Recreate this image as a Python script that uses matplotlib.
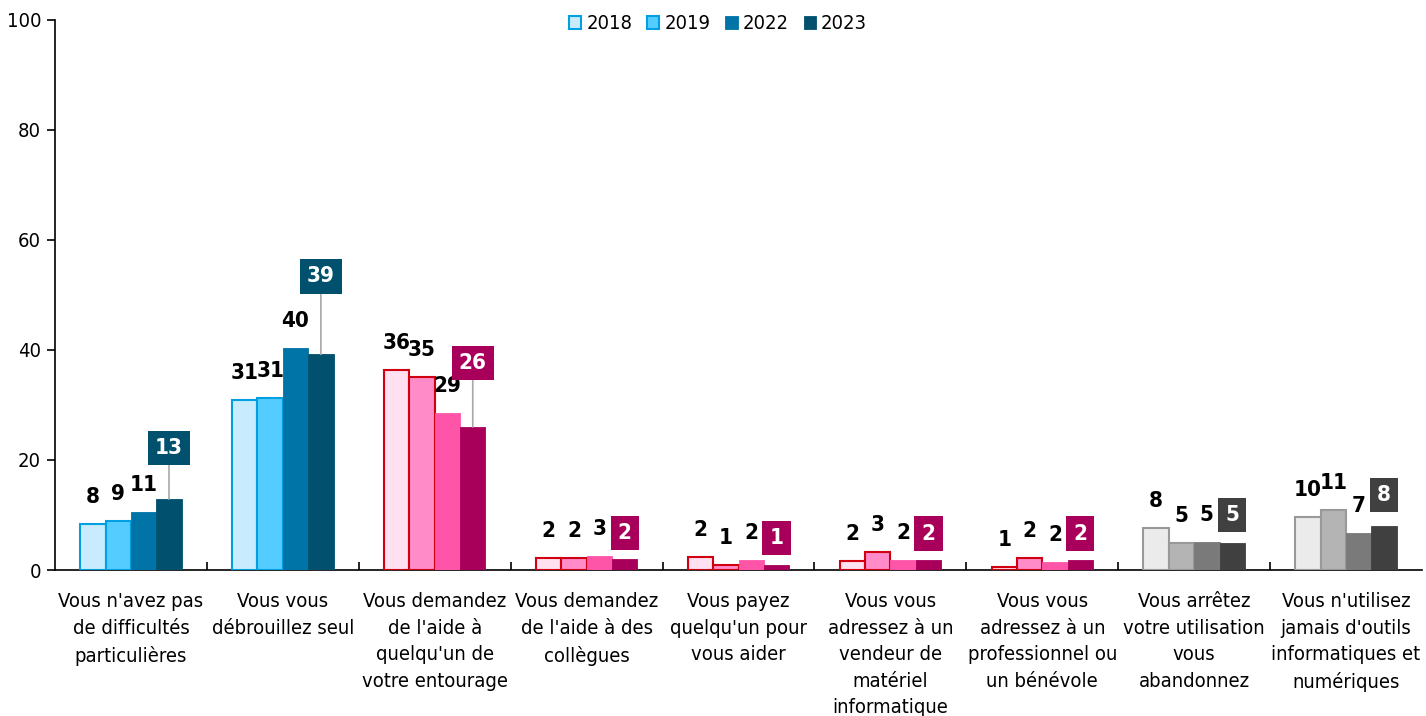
import matplotlib
matplotlib.use("Agg")
import matplotlib.pyplot as plt
from matplotlib.patches import Patch
import numpy as np

plt.rcParams['font.family'] = ['DejaVu Sans']
plt.rcParams['font.stretch'] = 'condensed'

categories = [
    "Vous n'avez pas\nde difficultés\nparticulières",
    "Vous vous\ndébrouillez seul",
    "Vous demandez\nde l'aide à\nquelqu'un de\nvotre entourage",
    "Vous demandez\nde l'aide à des\ncollègues",
    "Vous payez\nquelqu'un pour\nvous aider",
    "Vous vous\nadressez à un\nvendeur de\nmatériel\ninformatique",
    "Vous vous\nadressez à un\nprofessionnel ou\nun bénévole",
    "Vous arrêtez\nvotre utilisation\nvous\nabandonnez",
    "Vous n'utilisez\njamais d'outils\ninformatiques et\nnumériques",
]
years = ["2018", "2019", "2022", "2023"]
v2018 = [8.4, 30.9, 36.4, 2.1, 2.4, 1.6, 0.6, 7.7, 9.6]
v2019 = [9.0, 31.2, 35.1, 2.1, 0.9, 3.3, 2.2, 5.0, 10.9]
v2022 = [10.6, 40.3, 28.6, 2.6, 1.8, 1.9, 1.5, 5.1, 6.8]
v2023 = [12.9, 39.2, 26.0, 2.0, 0.9, 1.9, 1.9, 4.9, 8.0]
series = [v2018, v2019, v2022, v2023]

# colour family of each category
family = ["blue", "blue", "pink", "pink", "pink", "pink", "pink", "grey", "grey"]
fills = {
    "blue": ["#C8ECFD", "#55CCFF", "#0074A6", "#00506E"],
    "pink": ["#FFE0F0", "#FF8CC8", "#FF55A8", "#A8005A"],
    "grey": ["#EBEBEB", "#B4B4B4", "#7A7A7A", "#404040"],
}
edges = {
    "blue": ["#00A0E2", "#00A0E2", "#0074A6", "#00506E"],
    "pink": ["#D00010", "#D00010", "#FF55A8", "#A8005A"],
    "grey": ["#999999", "#999999", "#7A7A7A", "#404040"],
}
# vertical lift (pixels) of the highlighted 2023 value boxes
box_lift_px = [51, 78, 64, 26, 27, 26, 26, 28, 31]

fig = plt.figure(figsize=(14.26, 7.16), dpi=100)
ax = fig.add_axes([55 / 1426, 1 - 570 / 716, (1422 - 55) / 1426, 550 / 716])

n = len(categories)
x = np.arange(n)
w = 0.167

for j, vals in enumerate(series):
    xs = x + (j - 1.5) * w
    fc = [fills[f][j] for f in family]
    ec = [edges[f][j] for f in family]
    ax.bar(xs, vals, width=w, color=fc, edgecolor=ec, linewidth=1.5 if j < 2 else 0.6, zorder=3)
    for i, v in enumerate(vals):
        if j < 3:
            ax.annotate(f"{v:.0f}", xy=(xs[i], v), xytext=(0, 27), textcoords="offset pixels",
                        ha="center", va="center", fontsize=16, fontweight="bold", color="black",
                        zorder=5)
        else:
            lift = box_lift_px[i]
            ax.annotate(f"{v:.0f}", xy=(xs[i], v), xytext=(0, lift), textcoords="offset pixels",
                        ha="center", va="center", fontsize=16, fontweight="bold", color="white",
                        bbox=dict(boxstyle="square,pad=0.32", fc=fills[family[i]][3], ec="none"),
                        arrowprops=dict(arrowstyle="-", color="#A8A8A8", lw=1.2,
                                        shrinkA=0, shrinkB=0) if lift > 40 else None,
                        zorder=5)

ax.set_xlim(-0.5, n - 0.5)
ax.set_ylim(0, 100)
ax.set_yticks(np.arange(0, 101, 20))
ax.tick_params(axis="y", direction="out", length=6, width=1.2, labelsize=14.5, pad=4)
for s in ["top", "right"]:
    ax.spines[s].set_visible(False)
ax.spines["left"].set_linewidth(1.2)
ax.spines["bottom"].set_linewidth(1.2)

# category boundary ticks on the baseline
ax.set_xticks(np.arange(0.5, n - 0.5, 1.0))
ax.set_xticklabels([])
ax.tick_params(axis="x", direction="in", length=6, width=1.2)
ax.set_xticks(x, minor=True)
ax.set_xticklabels(categories, minor=True, fontsize=14.5, linespacing=1.5, va="top")
ax.tick_params(axis="x", which="minor", length=0, pad=16)

handles = [Patch(facecolor=fills["blue"][j], edgecolor=edges["blue"][j], linewidth=1.5 if j < 2 else 0.6)
           for j in range(4)]
ax.legend(handles, years, loc="upper center", bbox_to_anchor=(0.485, 1.043), ncol=4, frameon=False,
          fontsize=14.5, handlelength=0.6, handleheight=0.6, handletextpad=0.25, columnspacing=0.75)

fig.savefig("out.png", dpi=100)
